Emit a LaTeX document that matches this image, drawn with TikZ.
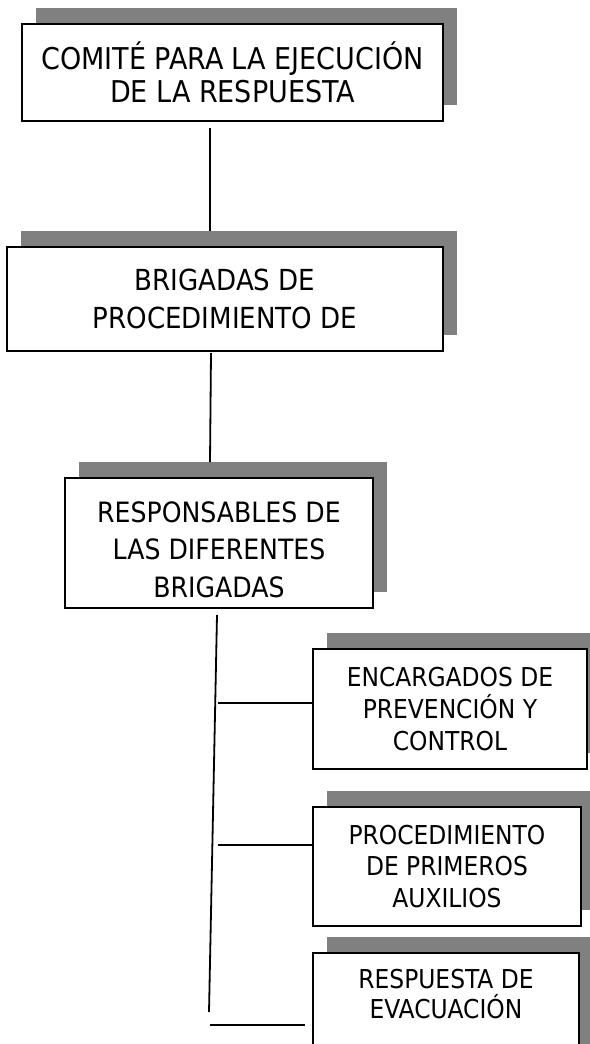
\documentclass[tikz,border=0pt]{standalone}
\usepackage{fontspec}
\setmainfont{DejaVu Sans Condensed}
\usepackage{tikz}
\usetikzlibrary{shadows}

\begin{document}
\begin{tikzpicture}[x=1pt, y=-1pt,
    box/.style={draw, fill=white, line width=1.8pt, align=center, inner sep=0pt,
        copy shadow={shadow xshift=14pt, shadow yshift=16pt, fill=black!50, draw=none}},
    link/.style={line width=1.8pt}]
    \useasboundingbox (0,0) rectangle (589,1044);

    % Draw the boxes of the chart
    \node[box, minimum width=421pt, minimum height=97pt, font=\fontsize{30}{32.5}\selectfont] (Comite) at (232.5,72.5) {COMITÉ PARA LA EJECUCIÓN\\DE LA RESPUESTA};
    \node[box, minimum width=436pt, minimum height=104pt, font=\fontsize{29}{38}\selectfont] (Brigadas) at (225,299) {BRIGADAS DE\\PROCEDIMIENTO DE};
    \node[box, minimum width=308pt, minimum height=130pt, font=\fontsize{28}{37.5}\selectfont] (Responsables) at (219,543) {\rule{0pt}{34pt}RESPONSABLES DE\\LAS DIFERENTES\\BRIGADAS};
    \node[box, minimum width=274pt, minimum height=120pt, font=\fontsize{26}{32}\selectfont] (Encargados) at (450,709) {ENCARGADOS DE\\PREVENCIÓN Y\\CONTROL};
    \node[box, minimum width=268pt, minimum height=119pt, font=\fontsize{26}{31.5}\selectfont] (Auxilios) at (447,866.5) {PROCEDIMIENTO\\DE PRIMEROS\\AUXILIOS};
    \node[box, minimum width=266pt, minimum height=120pt, font=\fontsize{26}{30}\selectfont] (Evacuacion) at (446,1013) {RESPUESTA DE\\EVACUACIÓN\\\strut};

    % Define coordinates for the free line ends
    \coordinate (L1) at (210,128);
    \coordinate (L2) at (210,231);
    \coordinate (L3) at (211,353);
    \coordinate (L4) at (210,462);
    \coordinate (T1) at (217,615);
    \coordinate (T2) at (209,1012);
    \coordinate (B1) at (218,703);
    \coordinate (B2) at (218,845);
    \coordinate (B3) at (210,1025);

    % Connect the boxes
    \draw[link] (L1) -- (L2);
    \draw[link] (L3) -- (L4);
    \draw[link] (T1) -- (T2);
    \draw[link] (B1) -- (B1 -| Encargados.west);
    \draw[link] (B2) -- (B2 -| Auxilios.west);
    \draw[link] (B3) -- ([xshift=-7pt]B3 -| Evacuacion.west);
\end{tikzpicture}
\end{document}
